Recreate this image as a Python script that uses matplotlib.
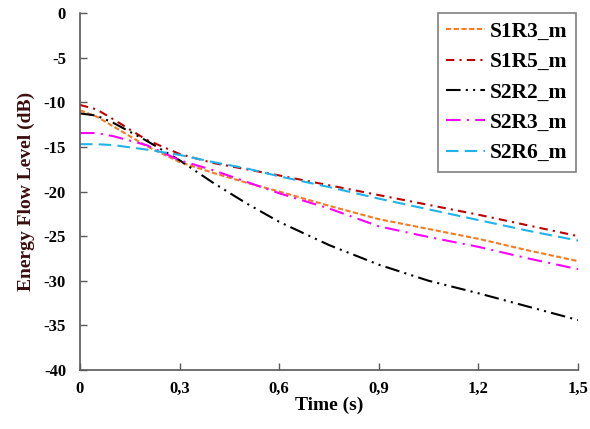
import matplotlib
matplotlib.use('Agg')
import matplotlib.pyplot as plt

# time axis (s)
t = [0, 0.05, 0.1, 0.2, 0.3, 0.4, 0.5, 0.6, 0.75, 0.9, 1.05, 1.2, 1.35, 1.5]

# energy flow levels (dB)
s1r3 = [-10.9, -11.6, -12.7, -14.9, -16.7, -17.9, -19.0, -20.0, -21.6, -23.1, -24.2, -25.3, -26.6, -27.8]
s1r5 = [-10.3, -10.8, -11.9, -14.2, -15.8, -16.8, -17.5, -18.2, -19.3, -20.4, -21.5, -22.6, -23.8, -25.0]
s2r2 = [-11.25, -11.5, -12.3, -14.3, -16.5, -19.0, -21.3, -23.4, -26.0, -28.2, -30.0, -31.4, -32.9, -34.4]
s2r3 = [-13.45, -13.45, -13.8, -14.8, -16.5, -17.6, -18.9, -20.2, -21.9, -23.9, -25.1, -26.2, -27.5, -28.7]
s2r6 = [-14.7, -14.7, -14.8, -15.3, -15.9, -16.7, -17.4, -18.3, -19.5, -20.8, -22.0, -23.2, -24.4, -25.5]

labels = ['S1R3_m', 'S1R5_m', 'S2R2_m', 'S2R3_m', 'S2R6_m']
xticks = [0, 0.3, 0.6, 0.9, 1.2, 1.5]
xticklabels = ['0', '0,3', '0,6', '0,9', '1,2', '1,5']
yticks = [0, -5, -10, -15, -20, -25, -30, -35, -40]

plt.rcParams['font.family'] = ['Liberation Serif', 'DejaVu Serif']
plt.rcParams['font.weight'] = 'bold'
plt.rcParams['axes.unicode_minus'] = False

fig = plt.figure(figsize=(5.9, 4.29), dpi=100)
ax = fig.add_axes([80 / 590, 1 - 370 / 429, 498 / 590, 357 / 429])

lw = 1.5
ax.plot(t, s1r3, color='#F47B20', lw=lw, dashes=(2.5, 1.2), label=labels[0])
ax.plot(t, s1r5, color='#C00000', lw=lw, dashes=(4, 2.5, 1, 2.5), label=labels[1])
ax.plot(t, s2r2, color='black', lw=lw, dashes=(7, 2.5, 1, 2.5, 1, 2.5), label=labels[2])
ax.plot(t, s2r3, color='#FF00FF', lw=lw, dashes=(7, 3, 1, 3), label=labels[3])
ax.plot(t, s2r6, color='#1EB4EA', lw=lw, dashes=(6, 3), label=labels[4])

ax.set_xlim(0, 1.5)
ax.set_ylim(-40, 0)
ax.set_xticks(xticks)
ax.set_xticklabels(xticklabels, fontweight='bold')
ax.set_yticks(yticks)
ax.set_yticklabels([str(v) for v in yticks], fontweight='bold')
ax.tick_params(direction='in', length=5, width=1, color='#595959', labelsize=12, pad=8)
ax.tick_params(axis='y', pad=10)

for side in ['top', 'right']:
    ax.spines[side].set_visible(False)
for side in ['left', 'bottom']:
    ax.spines[side].set_color('#595959')
    ax.spines[side].set_linewidth(1.2)

ax.set_xlabel('Time (s)', fontsize=14, fontweight='bold', labelpad=0)
ax.set_ylabel('Energy Flow Level (dB)', fontsize=14, fontweight='bold', color='#3A0E0E', labelpad=6)

leg = ax.legend(loc='upper right', bbox_to_anchor=(0.995, 1.0), borderaxespad=0,
                prop={'size': 15.5, 'weight': 'bold'}, handlelength=1.8,
                handletextpad=0.2, borderpad=0.4, labelspacing=0.48, fancybox=False,
                edgecolor='#7F7F7F', framealpha=1)
leg.get_frame().set_linewidth(1.2)

fig.savefig('out.png', dpi=100)
